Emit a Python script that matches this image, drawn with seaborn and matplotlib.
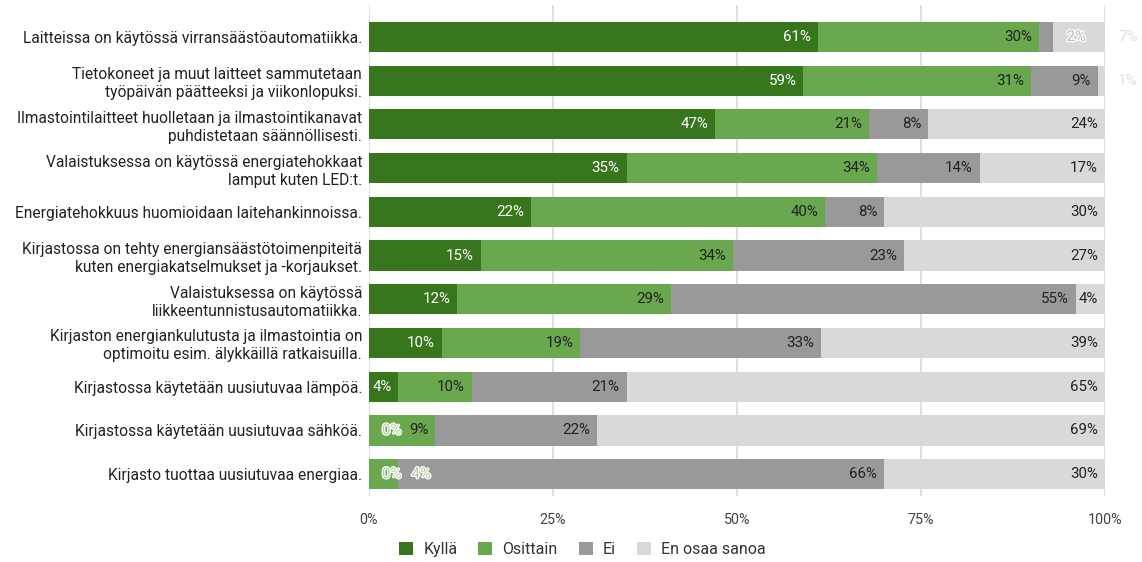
import matplotlib
matplotlib.use("Agg")
import matplotlib.pyplot as plt
import matplotlib.patheffects as pe
from matplotlib.patches import Patch
import numpy as np
import pandas as pd
import seaborn as sns

# data
categories = [
    "Laitteissa on käytössä virransäästöautomatiikka.",
    "Tietokoneet ja muut laitteet sammutetaan\ntyöpäivän päätteeksi ja viikonlopuksi.",
    "Ilmastointilaitteet huolletaan ja ilmastointikanavat\npuhdistetaan säännöllisesti.",
    "Valaistuksessa on käytössä energiatehokkaat\nlamput kuten LED:t.",
    "Energiatehokkuus huomioidaan laitehankinnoissa.",
    "Kirjastossa on tehty energiansäästötoimenpiteitä\nkuten energiakatselmukset ja -korjaukset.",
    "Valaistuksessa on käytössä\nliikkeentunnistusautomatiikka.",
    "Kirjaston energiankulutusta ja ilmastointia on\noptimoitu esim. älykkäillä ratkaisuilla.",
    "Kirjastossa käytetään uusiutuvaa lämpöä.",
    "Kirjastossa käytetään uusiutuvaa sähköä.",
    "Kirjasto tuottaa uusiutuvaa energiaa.",
]
series = ["Kyllä", "Osittain", "Ei", "En osaa sanoa"]
kylla = [61, 59, 47, 35, 22, 15, 12, 10, 4, 0, 0]
osittain = [30, 31, 21, 34, 40, 34, 29, 19, 10, 9, 4]
ei = [2, 9, 8, 14, 8, 23, 55, 33, 21, 22, 66]
en_osaa = [7, 1, 24, 17, 30, 27, 4, 39, 65, 69, 30]
x_ticks = [0, 25, 50, 75, 100]

colors = ["#38761d", "#6aa84f", "#999999", "#d9d9d9"]
label_colors = ["#ffffff", "#222222", "#222222", "#222222"]
ghost_colors = ["#b5cda9", "#aed09c", "#b8b8b8", "#e0e0e0"]

df = pd.DataFrame({"cat": categories, "Kyllä": kylla, "Osittain": osittain,
                   "Ei": ei, "En osaa sanoa": en_osaa})
vals = df[series].to_numpy(dtype=float)
pct = vals / vals.sum(axis=1, keepdims=True) * 100  # 100% stacked
cum = np.cumsum(pct, axis=1)

sns.set_style("white")
plt.rcParams["font.family"] = ["Roboto", "DejaVu Sans"]

fig = plt.figure(figsize=(11.42, 5.62), dpi=100)
ax = fig.add_axes([369 / 1142, 1 - 496 / 562, 736 / 1142, 491 / 562])

# draw stacked bars back to front
for j in range(len(series) - 1, -1, -1):
    sns.barplot(x=cum[:, j], y=df["cat"], orient="h", color=colors[j],
                saturation=1, width=0.69, linewidth=0, ax=ax)

ax.set_xlim(0, 100)
ax.set_ylim(len(categories) - 0.5, -0.73)
ax.set_xticks(x_ticks)
ax.set_xticklabels([f"{t}%" for t in x_ticks], color="#444444", fontsize=10.3)
ax.xaxis.grid(True, color="#dddddd", linewidth=1.3)
ax.set_axisbelow(True)
for s in ax.spines.values():
    s.set_visible(False)
ax.tick_params(axis="x", length=0, pad=12)
ax.tick_params(axis="y", length=0, pad=5)
ax.set_xlabel("")
ax.set_ylabel("")
for t in ax.get_yticklabels():
    t.set_fontsize(11.2)
    t.set_color("#222222")
    t.set_linespacing(1.25)

# data labels, pushed outside when they do not fit
fig.canvas.draw()
r = fig.canvas.get_renderer()
ppu = ax.transData.transform((1, 0))[0] - ax.transData.transform((0, 0))[0]
LBL_FS = 10.8


def text_w(s):
    t = ax.text(0, 0, s, fontsize=LBL_FS)
    w = t.get_window_extent(r).width
    t.remove()
    return w / ppu


pad_in = 7 / ppu
gap_out = 13 / ppu
gap_lbl = 5 / ppu
for i in range(len(categories)):
    prev_right = -1e9
    for j in range(len(series)):
        start = cum[i, j - 1] if j > 0 else 0
        end = cum[i, j]
        s = f"{int(vals[i, j])}%"
        w = text_w(s)
        left_in = end - pad_in - w
        if left_in >= start - 1 / ppu and left_in >= prev_right + gap_lbl:
            ax.text(end - pad_in, i, s, ha="right", va="center",
                    fontsize=LBL_FS, color=label_colors[j])
            prev_right = end - pad_in
        else:
            left = max(end + gap_out, prev_right + gap_lbl)
            t = ax.text(left, i, s, ha="left", va="center", fontsize=LBL_FS,
                        color=ghost_colors[j], clip_on=False)
            if left < 100:
                t.set_path_effects([pe.withStroke(linewidth=1.8, foreground="#ffffff")])
            prev_right = left + w

handles = [Patch(facecolor=c, edgecolor="none") for c in colors]
fig.legend(handles, series, loc="lower center", bbox_to_anchor=(0.51, -0.016),
           ncol=4, frameon=False, fontsize=11.5, handlelength=0.87,
           handleheight=0.87, handletextpad=0.65, columnspacing=1.3,
           labelcolor="#333333")

fig.savefig("out.png", dpi=100)
